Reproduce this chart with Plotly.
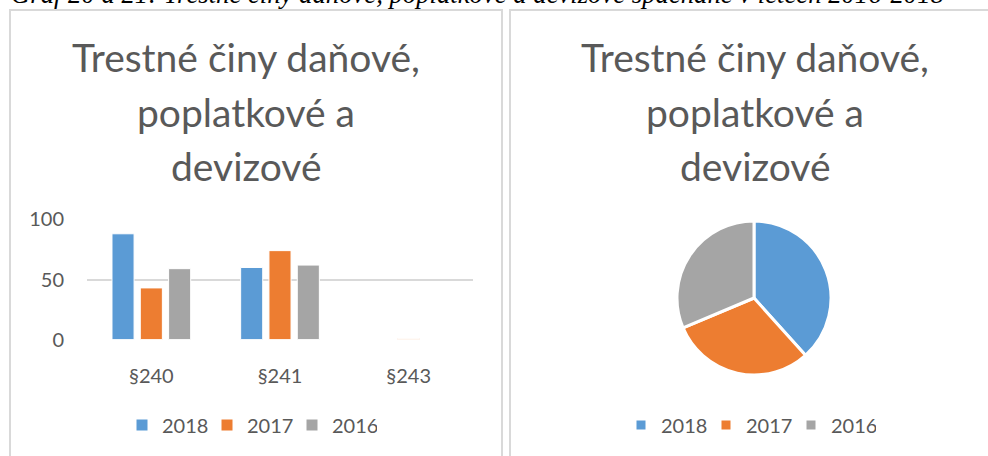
import plotly.graph_objects as go

W, H = 988, 456

categories = ["§240", "§241", "§243"]
years = ["2018", "2017", "2016"]
values_2018 = [88, 60, 0]
values_2017 = [43, 74, 1]
values_2016 = [59, 62, 0]
pie_values = [148, 117, 121]
colors = ["#5B9BD5", "#ED7D31", "#A5A5A5"]
yticks = [0, 50, 100]

title_lines = ["Trestné činy daňové,", "poplatkové a", "devizové"]
caption = "Graf 20 a 21: Trestné činy daňové, poplatkové a devizové spáchané v letech 2016-2018"

FONT = "Lato"
GREY = "#595959"

def px(x):
    return x / W

def py(y):
    return 1 - y / H

fig = go.Figure()
for name, vals, c in zip(years, [values_2018, values_2017, values_2016], colors):
    fig.add_trace(go.Bar(
        x=categories, y=vals, name=name, marker_color=c,
        marker_line=dict(color="white", width=1),
        legend="legend", xaxis="x", yaxis="y",
    ))

fig.add_trace(go.Pie(
    labels=years, values=pie_values, sort=False, direction="clockwise", rotation=0,
    marker=dict(colors=colors, line=dict(color="white", width=3)),
    textinfo="none", hoverinfo="label+value+percent",
    domain=dict(x=[px(677), px(831)], y=[py(375), py(221)]),
    legend="legend2",
))

fig.update_layout(
    width=W, height=H,
    margin=dict(l=0, r=0, t=0, b=0, autoexpand=False),
    paper_bgcolor="white", plot_bgcolor="white",
    barmode="group", bargap=0.34, bargroupgap=0.22,
    font=dict(family=FONT, color=GREY, size=20),
    xaxis=dict(domain=[px(87), px(473)], showgrid=False, zeroline=False,
               showline=False, ticks="", tickfont=dict(size=20, color=GREY),
               ticklabelstandoff=22),
    yaxis=dict(domain=[py(340), py(219)], range=[-0.3, 100.3], tickvals=yticks,
               showgrid=True, gridcolor="#D9D9D9", gridwidth=1.5,
               zeroline=False, showline=False, ticks="",
               tickfont=dict(size=20, color=GREY), ticklabelstandoff=22),
    legend=dict(orientation="h", x=px(122), xanchor="left", y=py(425), yanchor="middle",
                font=dict(size=20, color=GREY), bgcolor="rgba(0,0,0,0)",
                entrywidth=40, entrywidthmode="pixels", itemclick=False),
    legend2=dict(orientation="h", x=px(621), xanchor="left", y=py(425), yanchor="middle",
                 font=dict(size=20, color=GREY), bgcolor="rgba(0,0,0,0)",
                 entrywidth=40, entrywidthmode="pixels", itemclick=False),
)

# panel borders
fig.add_shape(type="rect", xref="paper", yref="paper",
              x0=px(10), x1=px(502), y0=py(470), y1=py(10),
              line=dict(color="#D9D9D9", width=2), layer="below")
fig.add_shape(type="rect", xref="paper", yref="paper",
              x0=px(510), x1=px(1000), y0=py(470), y1=py(10),
              line=dict(color="#D9D9D9", width=2), layer="below")

# chart titles, one annotation per line
centers = [57, 112, 166]
for cx in (246, 755):
    for line, cy in zip(title_lines, centers):
        fig.add_annotation(text=line, xref="paper", yref="paper",
                           x=px(cx), y=py(cy), xanchor="center", yanchor="middle",
                           showarrow=False,
                           font=dict(family=FONT, size=39, color=GREY))

# cropped caption at top
fig.add_annotation(text="<i>" + caption + "</i>", xref="paper", yref="paper",
                   x=px(9), y=py(11), xanchor="left", yanchor="bottom", showarrow=False,
                   font=dict(family="Liberation Serif", size=26.7, color="black"))

fig.write_html(
    "out.html",
    config={"displayModeBar": False},
    post_script="document.body.style.margin='0';document.body.style.overflow='hidden';",
)
